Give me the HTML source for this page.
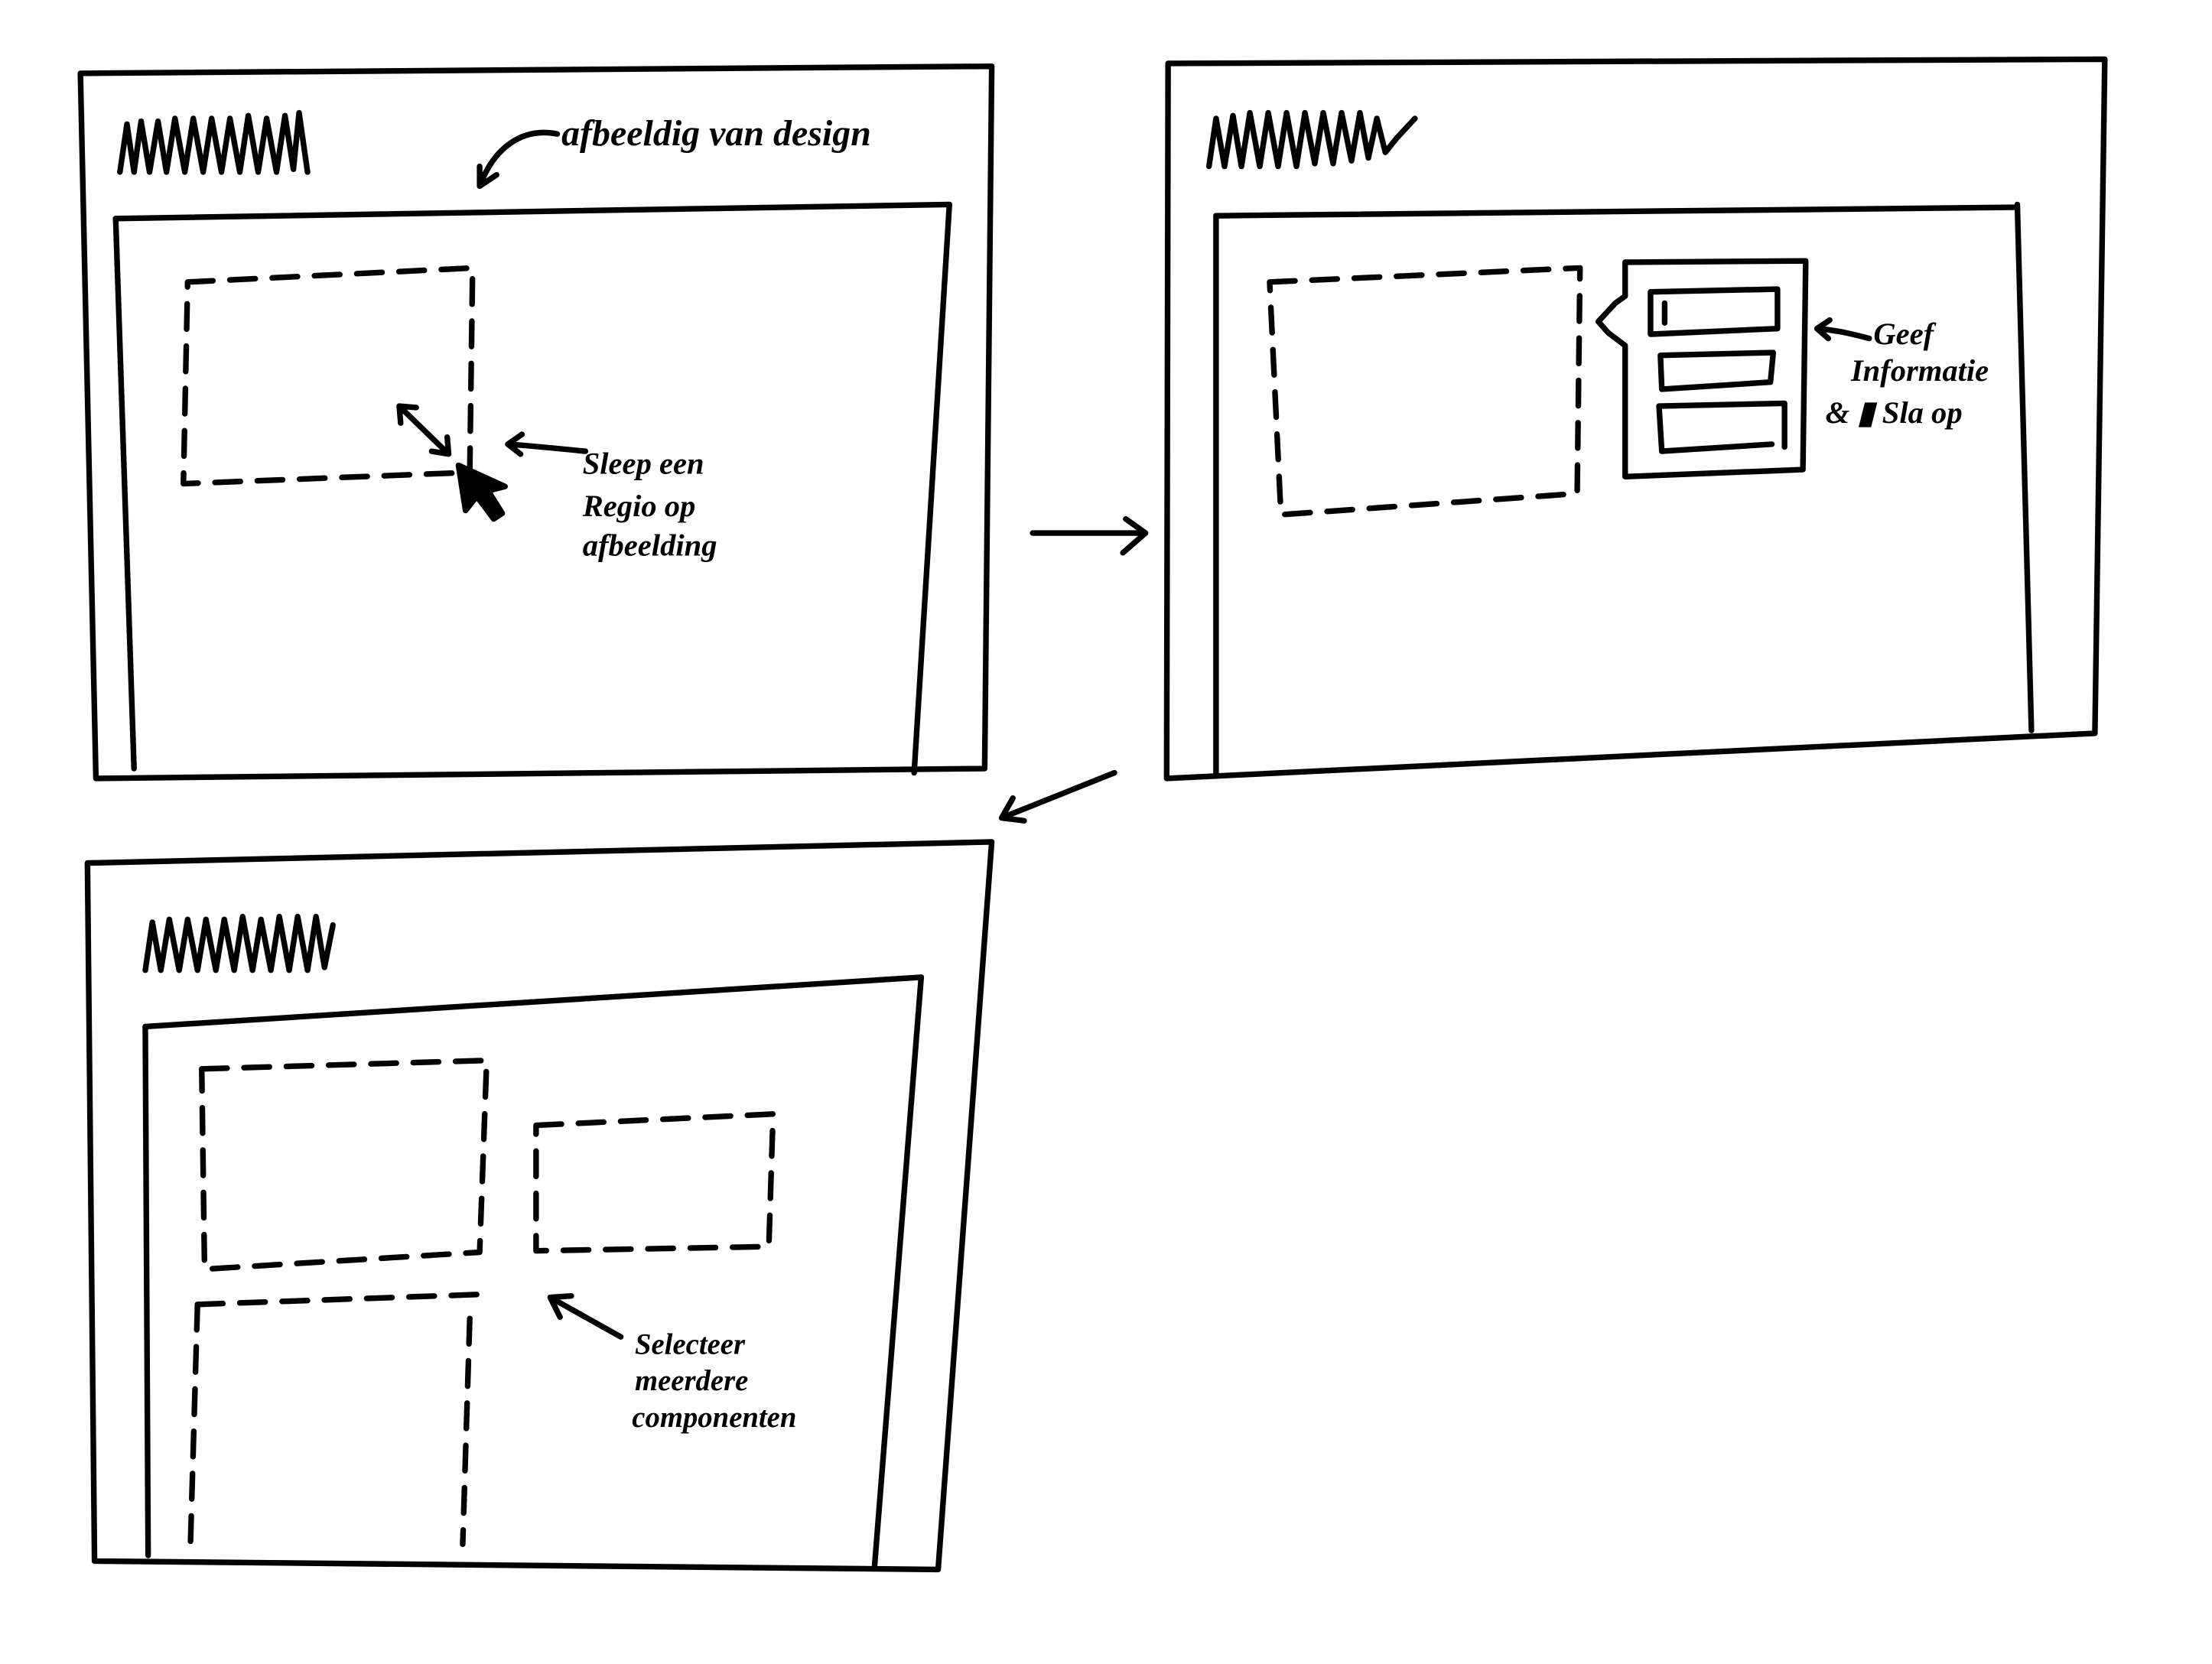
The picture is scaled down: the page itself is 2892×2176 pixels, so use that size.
<!DOCTYPE html>
<html><head><meta charset="utf-8"><style>
html,body{margin:0;padding:0;background:#fff;}
svg{display:block;}
text{font-family:"Liberation Serif",serif;font-style:italic;font-weight:bold;fill:#000;}
</style></head><body>
<svg width="2892" height="2176" viewBox="0 0 1568 1180" preserveAspectRatio="none" xmlns="http://www.w3.org/2000/svg">
<rect width="1568" height="1180" fill="#fff"/>
<g fill="none" stroke="#000" stroke-width="4" stroke-linecap="round" stroke-linejoin="round">
<!-- Frame 1 -->
<path d="M57,52 L703,47 L698,545 L68,552 Z"/>
<path d="M82,155 L673,145"/>
<path d="M82,155 L95,545"/>
<path d="M673,145 L648,548"/>
<path d="M85,122 L90,88 L95,122 L100,86 L106,122 L112,86 L118,122 L124,84 L131,122 L137,84 L144,122 L150,84 L157,122 L163,84 L170,122 L176,82 L183,122 L189,84 L196,122 L202,82 L208,120 L212,80 L218,122" stroke-width="4"/>
<path d="M395,95 C370,90 350,105 340,132 M340,132 L340,118 M340,132 L352,124"/>
<path d="M133,200 L335,190 L333,335 L130,343 Z" stroke-dasharray="18,12"/>
<path d="M283,288 L318,322 M283,288 L284,300 M283,288 L295,289 M318,322 L306,320 M318,322 L317,310"/>
<path d="M325,330 L330,362 L338,352 L350,368 L356,364 L346,348 L358,345 Z" fill="#000"/>
<path d="M415,320 C395,318 375,316 360,315 M360,315 L370,308 M360,315 L369,322"/>
<!-- arrow right -->
<path d="M732,378 L812,378 M812,378 L798,368 M812,378 L796,392"/>
<!-- Frame 2 -->
<path d="M828,45 L1492,42 L1485,520 L827,552 Z"/>
<path d="M862,153 L1428,147"/>
<path d="M862,153 L862,548"/>
<path d="M1430,145 L1440,518"/>
<path d="M857,118 L862,84 L868,118 L874,82 L880,118 L886,80 L893,118 L899,80 L906,118 L912,80 L919,118 L925,80 L932,116 L938,80 L945,116 L951,80 L958,114 L964,80 L970,112 L976,84 L982,108 L990,98 L1003,84"/>
<path d="M900,200 L1120,190 L1118,350 L908,365 Z" stroke-dasharray="18,12"/>
<path d="M1152,210 L1152,186 L1280,185 L1278,333 L1152,338 L1152,245 L1140,236 L1133,228 L1145,215 Z"/>
<path d="M1170,207 L1260,205 L1260,233 L1170,237 Z"/>
<path d="M1180,215 L1180,229"/>
<path d="M1177,252 L1257,250 L1255,271 L1178,276 Z"/>
<path d="M1176,288 L1265,286 L1265,317 M1176,288 L1178,320 L1256,315"/>
<path d="M1325,240 C1310,236 1300,234 1288,233 M1288,233 L1297,227 M1288,233 L1296,240"/>
<!-- arrow down-left -->
<path d="M790,548 L710,580 M710,580 L718,566 M710,580 L726,582"/>
<!-- Frame 3 -->
<path d="M62,612 L703,597 L665,1113 L67,1107 Z"/>
<path d="M103,728 L653,693"/>
<path d="M103,728 L105,1103"/>
<path d="M653,693 L620,1110"/>
<path d="M103,688 L108,654 L114,688 L120,652 L127,688 L133,652 L140,688 L146,652 L153,688 L159,652 L166,688 L172,650 L179,688 L185,652 L192,688 L198,650 L205,688 L211,650 L218,688 L224,650 L230,686 L236,656"/>
<path d="M143,758 L345,752 L340,888 L145,900 Z" stroke-dasharray="18,12"/>
<path d="M380,798 L548,790 L545,884 L380,887 Z" stroke-dasharray="18,12"/>
<path d="M140,925 L338,918" stroke-dasharray="18,12"/>
<path d="M140,925 L135,1095" stroke-dasharray="18,12"/>
<path d="M333,935 L328,1095" stroke-dasharray="18,12"/>
<path d="M440,948 L390,920 M390,920 L397,934 M390,920 L405,919"/>
</g>
<text x="398" y="103" font-size="26">afbeeldig van design</text>
<text x="413" y="336" font-size="22">Sleep een</text>
<text x="413" y="366" font-size="22">Regio op</text>
<text x="413" y="394" font-size="22">afbeelding</text>
<text x="1328" y="244" font-size="22">Geef</text>
<text x="1312" y="270" font-size="22">Informatie</text>
<text x="1294" y="300" font-size="22">&amp; ▮ Sla op</text>
<text x="450" y="960" font-size="21">Selecteer</text>
<text x="450" y="986" font-size="21">meerdere</text>
<text x="448" y="1012" font-size="21">componenten</text>
</svg>
</body></html>
